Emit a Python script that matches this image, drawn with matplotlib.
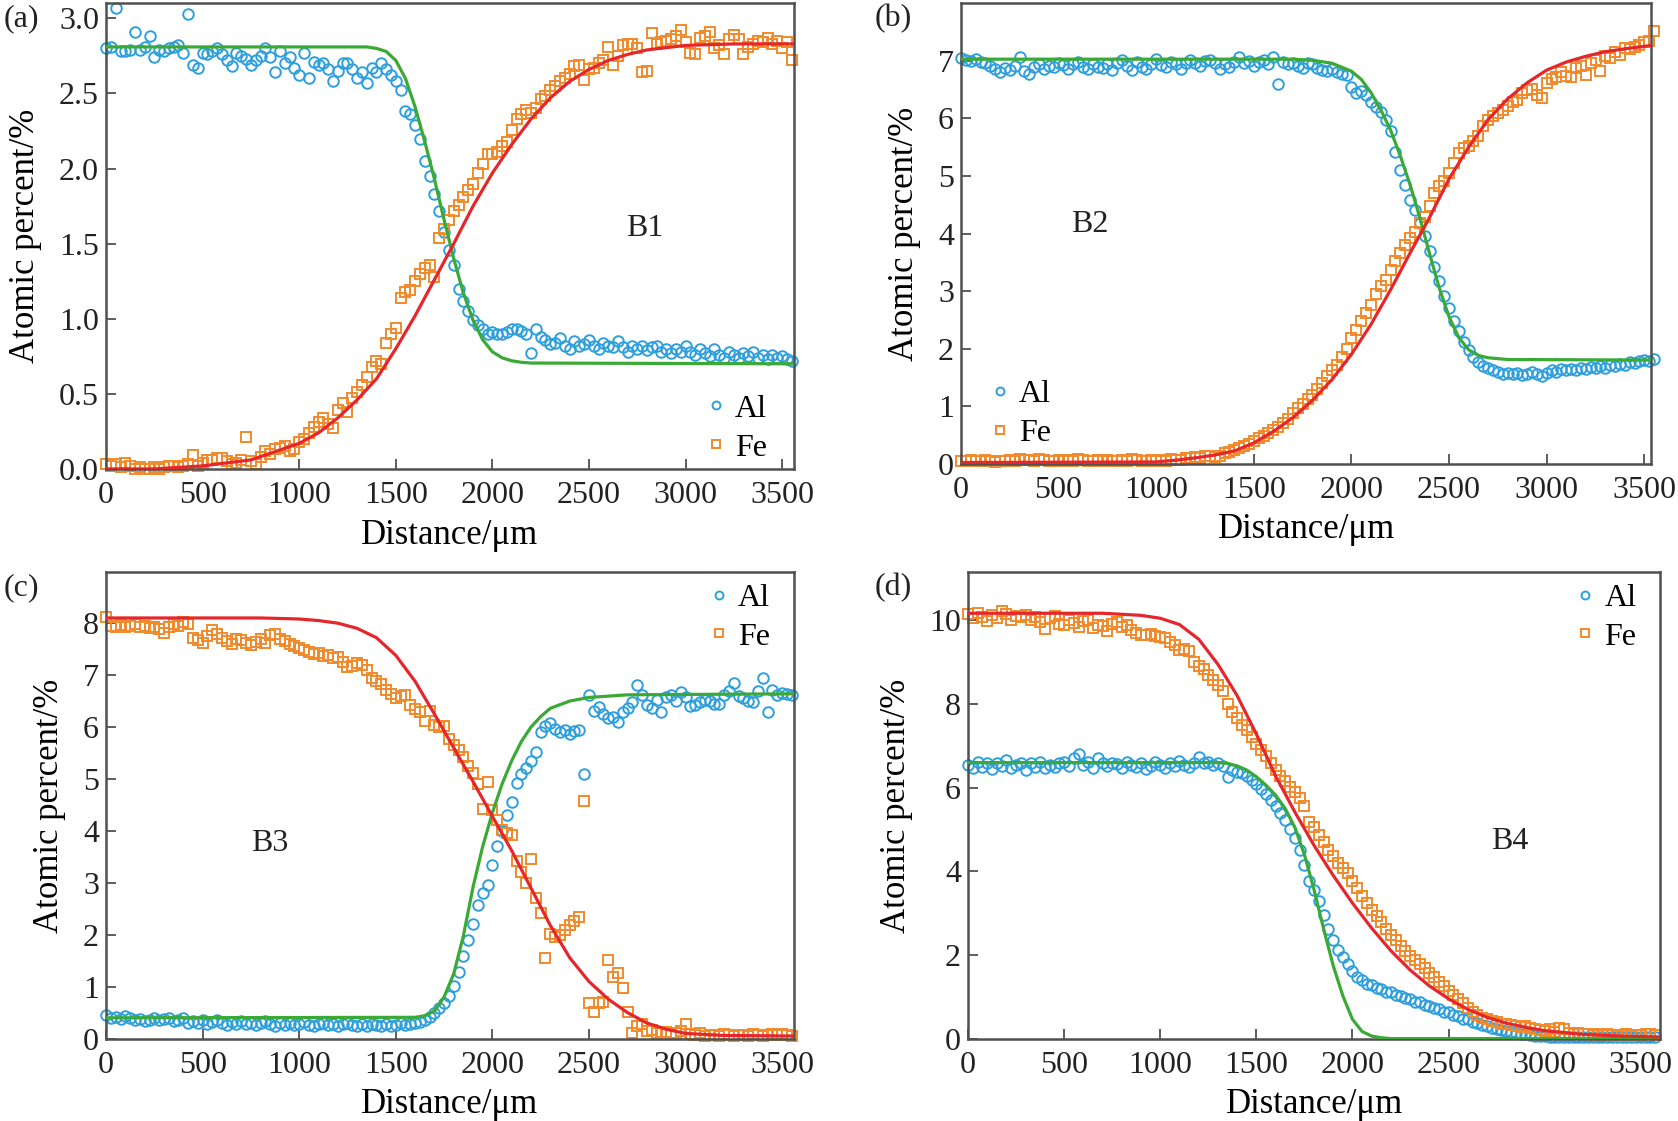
import numpy as np
import matplotlib
matplotlib.use("Agg")
import matplotlib.pyplot as plt
from matplotlib.ticker import FormatStrFormatter

plt.rcParams['font.family'] = ['Liberation Serif', 'DejaVu Serif']

STEP = 25  # spacing of the line-scan points, um

# ---- B1 ----
al_b1 = [2.80, 2.81, 3.07, 2.78, 2.78, 2.79, 2.91, 2.79, 2.81, 2.88,
         2.74, 2.79, 2.78, 2.80, 2.81, 2.82, 2.77, 3.03, 2.69, 2.67,
         2.77, 2.76, 2.78, 2.80, 2.76, 2.72, 2.68, 2.77, 2.75, 2.73,
         2.69, 2.72, 2.75, 2.80, 2.74, 2.64, 2.78, 2.70, 2.74, 2.67,
         2.62, 2.77, 2.60, 2.71, 2.69, 2.70, 2.66, 2.58, 2.65, 2.70,
         2.70, 2.66, 2.60, 2.64, 2.57, 2.67, 2.64, 2.70, 2.66, 2.62,
         2.58, 2.52, 2.38, 2.36, 2.29, 2.20, 2.05, 1.95, 1.83, 1.72,
         1.58, 1.46, 1.36, 1.20, 1.12, 1.05, 0.99, 0.96, 0.93, 0.90,
         0.91, 0.90, 0.90, 0.91, 0.93, 0.93, 0.92, 0.90, 0.77, 0.93,
         0.88, 0.86, 0.83, 0.84, 0.87, 0.82, 0.80, 0.85, 0.82, 0.83,
         0.86, 0.82, 0.80, 0.84, 0.82, 0.81, 0.85, 0.81, 0.78, 0.82,
         0.80, 0.82, 0.79, 0.81, 0.82, 0.78, 0.80, 0.77, 0.80, 0.78,
         0.82, 0.78, 0.76, 0.80, 0.77, 0.75, 0.80, 0.76, 0.74, 0.78,
         0.76, 0.74, 0.77, 0.75, 0.78, 0.74, 0.76, 0.73, 0.76, 0.74,
         0.75, 0.73, 0.72]
fe_b1 = [0.03, 0.02, 0.03, 0.01, 0.04, 0.02, 0.00, 0.01, 0.00, 0.00,
         0.01, 0.00, 0.01, 0.02, 0.02, 0.01, 0.02, 0.03, 0.09, 0.02,
         0.04, 0.06, 0.06, 0.07, 0.07, 0.05, 0.03, 0.04, 0.06, 0.21,
         0.05, 0.03, 0.08, 0.12, 0.10, 0.13, 0.14, 0.15, 0.12, 0.13,
         0.18, 0.20, 0.24, 0.28, 0.31, 0.34, 0.30, 0.27, 0.39, 0.44,
         0.38, 0.47, 0.51, 0.56, 0.61, 0.68, 0.72, 0.70, 0.84, 0.90,
         0.94, 1.14, 1.18, 1.19, 1.25, 1.30, 1.34, 1.36, 1.28, 1.54,
         1.60, 1.66, 1.72, 1.76, 1.81, 1.86, 1.90, 1.97, 2.03, 2.10,
         2.10, 2.11, 2.15, 2.18, 2.26, 2.33, 2.36, 2.39, 2.37, 2.40,
         2.46, 2.48, 2.52, 2.55, 2.58, 2.60, 2.63, 2.68, 2.69, 2.59,
         2.66, 2.67, 2.70, 2.72, 2.81, 2.69, 2.75, 2.82, 2.83, 2.83,
         2.80, 2.64, 2.65, 2.90, 2.83, 2.84, 2.85, 2.86, 2.88, 2.92,
         2.84, 2.77, 2.76, 2.87, 2.88, 2.91, 2.80, 2.82, 2.76, 2.86,
         2.89, 2.86, 2.76, 2.81, 2.83, 2.85, 2.84, 2.87, 2.83, 2.85,
         2.80, 2.84, 2.72]
al_fit_b1_x = [0, 1350, 1400, 1450, 1500, 1550, 1600, 1650, 1700, 1750, 1800,
               1850, 1900, 1950, 2000, 2050, 2100, 2150, 2200, 3560]
al_fit_b1_y = [2.81, 2.81, 2.80, 2.78, 2.72, 2.60, 2.41, 2.18, 1.93, 1.66, 1.40,
               1.17, 0.99, 0.86, 0.78, 0.74, 0.72, 0.71, 0.705, 0.70]
fe_fit_b1_x = [0, 250, 500, 750, 1000, 1100, 1200, 1300, 1400, 1500, 1600, 1700,
               1800, 1900, 2000, 2100, 2200, 2300, 2400, 2500, 2600, 2700, 2800,
               3000, 3250, 3560]
fe_fit_b1_y = [0.00, 0.00, 0.02, 0.06, 0.17, 0.24, 0.34, 0.46, 0.60, 0.80, 1.02, 1.26,
               1.50, 1.75, 1.97, 2.16, 2.33, 2.47, 2.58, 2.66, 2.72, 2.76, 2.79,
               2.82, 2.83, 2.83]

# ---- B2 ----
al_b2 = [7.05, 7.02, 7.00, 7.03, 6.98, 6.96, 6.92, 6.86, 6.80, 6.88,
         6.84, 6.92, 7.06, 6.82, 6.78, 6.90, 6.95, 6.86, 6.92, 6.90,
         6.97, 6.93, 6.86, 6.95, 6.98, 6.90, 6.86, 6.94, 6.90, 6.88,
         6.95, 6.84, 6.97, 7.02, 6.92, 6.85, 6.98, 6.90, 6.86, 6.95,
         7.04, 6.93, 6.90, 6.98, 6.94, 6.86, 6.96, 7.02, 6.97, 6.92,
         6.99, 7.02, 6.96, 6.86, 6.94, 6.90, 6.98, 7.06, 6.96, 7.00,
         6.92, 6.98, 7.02, 6.95, 7.06, 6.60, 6.98, 6.94, 6.97, 6.92,
         6.88, 6.96, 6.94, 6.88, 6.85, 6.82, 6.86, 6.80, 6.78, 6.75,
         6.55, 6.45, 6.48, 6.40, 6.28, 6.20, 6.12, 5.98, 5.78, 5.42,
         5.10, 4.85, 4.58, 4.40, 4.18, 3.95, 3.70, 3.42, 3.18, 2.92,
         2.70, 2.48, 2.30, 2.12, 1.98, 1.86, 1.76, 1.70, 1.66, 1.62,
         1.60, 1.56, 1.58, 1.55, 1.58, 1.54, 1.56, 1.60, 1.55, 1.52,
         1.58, 1.62, 1.60, 1.64, 1.62, 1.65, 1.63, 1.66, 1.64, 1.68,
         1.66, 1.70, 1.67, 1.72, 1.70, 1.74, 1.72, 1.76, 1.75, 1.78,
         1.80, 1.79, 1.82]
fe_b2 = [0.05, 0.04, 0.06, 0.05, 0.04, 0.06, 0.05, 0.03, 0.04, 0.05,
         0.06, 0.04, 0.08, 0.07, 0.06, 0.05, 0.08, 0.06, 0.05, 0.04,
         0.06, 0.05, 0.07, 0.05, 0.08, 0.06, 0.05, 0.04, 0.06, 0.05,
         0.07, 0.04, 0.05, 0.06, 0.05, 0.08, 0.06, 0.04, 0.05, 0.07,
         0.04, 0.06, 0.05, 0.08, 0.07, 0.06, 0.09, 0.10, 0.12, 0.10,
         0.13, 0.14, 0.12, 0.14, 0.18, 0.20, 0.23, 0.27, 0.30, 0.34,
         0.40, 0.44, 0.48, 0.54, 0.58, 0.64, 0.70, 0.78, 0.88, 0.96,
         1.04, 1.12, 1.20, 1.30, 1.40, 1.52, 1.62, 1.72, 1.86, 2.00,
         2.18, 2.32, 2.48, 2.62, 2.76, 2.95, 3.08, 3.20, 3.36, 3.52,
         3.66, 3.80, 3.92, 4.02, 4.18, 4.28, 4.48, 4.70, 4.82, 4.92,
         5.06, 5.22, 5.40, 5.48, 5.52, 5.60, 5.70, 5.86, 5.98, 6.05,
         6.10, 6.15, 6.22, 6.28, 6.32, 6.45, 6.50, 6.52, 6.40, 6.36,
         6.62, 6.68, 6.72, 6.80, 6.74, 6.72, 6.88, 6.92, 6.76, 6.96,
         7.02, 6.82, 7.08, 7.05, 7.15, 7.10, 7.22, 7.20, 7.25, 7.28,
         7.32, 7.34, 7.52]
al_fit_b2_x = [0, 1700, 1800, 1900, 2000, 2050, 2100, 2150, 2200, 2250, 2300,
               2350, 2400, 2450, 2500, 2550, 2600, 2650, 2700, 2800, 3540]
al_fit_b2_y = [7.03, 7.03, 7.01, 6.96, 6.82, 6.68, 6.45, 6.15, 5.80, 5.35, 4.85,
               4.28, 3.65, 3.05, 2.55, 2.19, 1.98, 1.88, 1.84, 1.81, 1.80]
fe_fit_b2_x = [0, 1000, 1100, 1200, 1300, 1400, 1500, 1600, 1700, 1800, 1900,
               2000, 2100, 2200, 2300, 2400, 2500, 2600, 2700, 2800, 2900, 3000,
               3100, 3200, 3300, 3400, 3540]
fe_fit_b2_y = [0.02, 0.03, 0.06, 0.10, 0.15, 0.22, 0.36, 0.56, 0.80, 1.10, 1.46,
               1.90, 2.42, 3.02, 3.66, 4.28, 4.95, 5.50, 5.98, 6.34, 6.62, 6.84,
               6.98, 7.08, 7.16, 7.21, 7.27]

# ---- B3 ----
al_b3 = [0.45, 0.40, 0.42, 0.38, 0.44, 0.40, 0.36, 0.38, 0.33, 0.36,
         0.40, 0.35, 0.38, 0.40, 0.33, 0.36, 0.39, 0.30, 0.34, 0.31,
         0.35, 0.28, 0.32, 0.36, 0.30, 0.27, 0.32, 0.29, 0.33, 0.28,
         0.31, 0.26, 0.30, 0.33, 0.28, 0.25, 0.30, 0.27, 0.31, 0.26,
         0.29, 0.32, 0.27, 0.24, 0.28, 0.31, 0.26, 0.29, 0.25, 0.28,
         0.30, 0.26, 0.24, 0.28, 0.25, 0.29, 0.26, 0.24, 0.28, 0.25,
         0.27, 0.30, 0.26, 0.28, 0.30, 0.32, 0.36, 0.42, 0.50, 0.58,
         0.68, 0.82, 1.02, 1.28, 1.60, 1.90, 2.20, 2.58, 2.80, 2.95,
         3.35, 3.70, 4.00, 4.30, 4.55, 4.92, 5.10, 5.22, 5.35, 5.52,
         5.90, 6.02, 6.08, 5.96, 5.90, 5.95, 5.86, 5.92, 5.94, 5.10,
         6.62, 6.30, 6.38, 6.25, 6.18, 6.20, 6.10, 6.28, 6.36, 6.48,
         6.80, 6.62, 6.42, 6.36, 6.52, 6.28, 6.58, 6.62, 6.50, 6.68,
         6.58, 6.40, 6.42, 6.48, 6.52, 6.50, 6.45, 6.44, 6.62, 6.70,
         6.84, 6.60, 6.56, 6.50, 6.48, 6.70, 6.95, 6.28, 6.72, 6.62,
         6.66, 6.64, 6.61]
fe_b3 = [8.12, 7.95, 7.92, 7.96, 7.92, 7.95, 7.98, 7.92, 7.95, 7.90,
         7.93, 7.88, 7.82, 7.92, 7.98, 7.95, 8.02, 7.98, 7.72, 7.68,
         7.62, 7.76, 7.86, 7.80, 7.72, 7.65, 7.60, 7.70, 7.68, 7.62,
         7.58, 7.64, 7.70, 7.62, 7.78, 7.80, 7.70, 7.66, 7.60, 7.56,
         7.52, 7.48, 7.44, 7.40, 7.42, 7.36, 7.38, 7.32, 7.34, 7.26,
         7.16, 7.18, 7.24, 7.20, 7.10, 6.95, 6.88, 6.82, 6.72, 6.64,
         6.56, 6.60, 6.62, 6.42, 6.35, 6.28, 6.12, 6.30, 6.04, 6.00,
         6.02, 5.76, 5.66, 5.55, 5.42, 5.25, 5.12, 4.90, 4.42, 4.95,
         4.40, 4.20, 4.02, 3.95, 3.92, 3.42, 3.20, 3.00, 3.46, 2.70,
         2.42, 1.55, 2.02, 1.96, 2.00, 2.10, 2.18, 2.26, 2.34, 4.58,
         0.68, 0.52, 0.68, 0.70, 1.52, 1.18, 1.26, 0.98, 0.52, 0.10,
         0.25, 0.28, 0.14, 0.16, 0.10, 0.12, 0.12, 0.08, 0.10, 0.15,
         0.28, 0.08, 0.06, 0.10, 0.05, 0.07, 0.06, 0.05, 0.08, 0.06,
         0.05, 0.07, 0.06, 0.05, 0.08, 0.06, 0.05, 0.07, 0.08, 0.06,
         0.09, 0.07, 0.05]
al_fit_b3_x = [0, 1600, 1650, 1700, 1750, 1800, 1850, 1900, 1950, 2000, 2050,
               2100, 2150, 2200, 2250, 2300, 2400, 2500, 2700, 3560]
al_fit_b3_y = [0.40, 0.41, 0.44, 0.53, 0.80, 1.25, 1.98, 2.92, 3.70, 4.35, 4.90,
               5.35, 5.72, 6.00, 6.20, 6.36, 6.50, 6.57, 6.62, 6.64]
fe_fit_b3_x = [0, 800, 1000, 1100, 1200, 1300, 1400, 1500, 1600, 1700, 1800,
               1900, 2000, 2100, 2200, 2300, 2400, 2500, 2600, 2700, 2800, 2900,
               3000, 3200, 3560]
fe_fit_b3_y = [8.10, 8.10, 8.08, 8.05, 8.00, 7.90, 7.72, 7.38, 6.88, 6.25, 5.60,
               4.95, 4.28, 3.62, 2.90, 2.18, 1.56, 1.10, 0.76, 0.50, 0.30, 0.18,
               0.10, 0.06, 0.05]

# ---- B4 ----
al_b4 = [6.55, 6.48, 6.62, 6.50, 6.58, 6.45, 6.60, 6.52, 6.66, 6.48,
         6.55, 6.60, 6.42, 6.58, 6.50, 6.62, 6.46, 6.55, 6.50, 6.58,
         6.62, 6.52, 6.70, 6.80, 6.55, 6.62, 6.48, 6.72, 6.58, 6.52,
         6.60, 6.56, 6.48, 6.62, 6.55, 6.50, 6.58, 6.44, 6.52, 6.62,
         6.55, 6.48, 6.58, 6.52, 6.64, 6.55, 6.50, 6.60, 6.74, 6.58,
         6.62, 6.55, 6.60, 6.52, 6.25, 6.42, 6.38, 6.34, 6.28, 6.18,
         6.08, 5.96, 5.84, 5.70, 5.55, 5.40, 5.22, 5.02, 4.80, 4.52,
         4.15, 3.78, 3.55, 3.30, 2.95, 2.62, 2.36, 2.12, 1.95, 1.78,
         1.62, 1.48, 1.40, 1.30, 1.27, 1.20, 1.19, 1.12, 1.11, 1.04,
         1.03, 0.96, 0.95, 0.88, 0.87, 0.80, 0.79, 0.72, 0.71, 0.64,
         0.63, 0.56, 0.55, 0.48, 0.46, 0.40, 0.38, 0.32, 0.31, 0.25,
         0.23, 0.20, 0.18, 0.15, 0.13, 0.11, 0.10, 0.08, 0.07, 0.06,
         0.06, 0.05, 0.05, 0.04, 0.05, 0.04, 0.04, 0.05, 0.04, 0.04,
         0.03, 0.04, 0.04, 0.03, 0.04, 0.03, 0.03, 0.04, 0.03, 0.03,
         0.03, 0.04, 0.03, 0.03]
fe_b4 = [10.15, 10.05, 10.18, 10.08, 9.98, 10.12, 10.05, 10.22, 10.15, 10.02,
         10.10, 10.08, 10.12, 10.00, 10.08, 9.95, 9.80, 10.05, 10.10, 9.92,
         9.88, 10.02, 9.94, 9.85, 9.98, 10.00, 9.82, 9.90, 9.86, 9.74,
         9.92, 9.96, 9.84, 9.88, 9.78, 9.70, 9.66, 9.64, 9.68, 9.62,
         9.60, 9.58, 9.48, 9.40, 9.30, 9.32, 9.26, 9.00, 8.92, 8.84,
         8.70, 8.58, 8.45, 8.30, 8.00, 7.82, 7.66, 7.50, 7.38, 7.22,
         7.05, 6.90, 6.75, 6.58, 6.42, 6.28, 6.15, 6.02, 5.90, 5.76,
         5.55, 5.18, 5.05, 4.88, 4.70, 4.52, 4.36, 4.20, 4.08, 3.95,
         3.78, 3.60, 3.40, 3.24, 3.08, 2.92, 2.78, 2.62, 2.48, 2.35,
         2.22, 2.10, 1.98, 1.88, 1.78, 1.68, 1.58, 1.48, 1.36, 1.26,
         1.14, 1.04, 0.94, 0.86, 0.74, 0.64, 0.56, 0.50, 0.46, 0.42,
         0.40, 0.36, 0.34, 0.32, 0.30, 0.28, 0.30, 0.26, 0.22, 0.20,
         0.18, 0.22, 0.16, 0.25, 0.24, 0.14, 0.12, 0.14, 0.10, 0.12,
         0.09, 0.10, 0.08, 0.10, 0.09, 0.07, 0.08, 0.10, 0.07, 0.09,
         0.08, 0.10, 0.12, 0.09]
al_fit_b4_x = [0, 1300, 1350, 1400, 1450, 1500, 1550, 1600, 1650, 1700, 1750,
               1800, 1850, 1900, 1950, 2000, 2050, 2100, 2150, 2200, 3600]
al_fit_b4_y = [6.60, 6.60, 6.58, 6.52, 6.42, 6.26, 6.06, 5.82, 5.50, 5.05, 4.40,
               3.56, 2.62, 1.74, 1.02, 0.46, 0.17, 0.06, 0.02, 0.00, 0.00]
fe_fit_b4_x = [0, 700, 900, 1000, 1100, 1200, 1300, 1400, 1500, 1600, 1700,
               1800, 1900, 2000, 2100, 2200, 2300, 2400, 2500, 2600, 2700, 2800,
               2900, 3000, 3200, 3400, 3600]
fe_fit_b4_y = [10.17, 10.17, 10.12, 10.05, 9.90, 9.55, 8.95, 8.20, 7.28, 6.28, 5.42,
               4.62, 3.90, 3.24, 2.64, 2.10, 1.64, 1.26, 0.95, 0.70, 0.51, 0.37,
               0.27, 0.19, 0.10, 0.06, 0.04]

x_ticks = [0, 500, 1000, 1500, 2000, 2500, 3000, 3500]

AL_C = '#2f9fdb'
FE_C = '#f08a2c'
GREEN = '#3aa935'
RED = '#e5262b'
SPINE = '#505050'
FS = 23

fig = plt.figure(figsize=(16.78, 11.21), dpi=100)

panels = [
    dict(rect=[0.0632, 0.5817, 0.4098, 0.4153], al=al_b1, fe=fe_b1,
         afx=al_fit_b1_x, afy=al_fit_b1_y, ffx=fe_fit_b1_x, ffy=fe_fit_b1_y,
         xmax=3560, ylim=(0, 3.1), yticks=[0, 0.5, 1.0, 1.5, 2.0, 2.5, 3.0],
         fmt='%.1f', name='B1', npos=(2790, 1.6), letter='(a)',
         leg=dict(loc='lower right', bbox_to_anchor=(0.97, 0.0))),
    dict(rect=[0.5727, 0.5864, 0.4113, 0.4106], al=al_b2, fe=fe_b2,
         afx=al_fit_b2_x, afy=al_fit_b2_y, ffx=fe_fit_b2_x, ffy=fe_fit_b2_y,
         xmax=3535, ylim=(0, 8.0), yticks=[0, 1, 2, 3, 4, 5, 6, 7],
         fmt='%d', name='B2', npos=(660, 4.15), letter='(b)',
         leg=dict(loc='lower left', bbox_to_anchor=(0.035, 0.02))),
    dict(rect=[0.0632, 0.0735, 0.4098, 0.4160], al=al_b3, fe=fe_b3,
         afx=al_fit_b3_x, afy=al_fit_b3_y, ffx=fe_fit_b3_x, ffy=fe_fit_b3_y,
         xmax=3560, ylim=(0, 8.98), yticks=[0, 1, 2, 3, 4, 5, 6, 7, 8],
         fmt='%d', name='B3', npos=(850, 3.75), letter='(c)',
         leg=dict(loc='upper right', bbox_to_anchor=(0.975, 0.99))),
    dict(rect=[0.5769, 0.0735, 0.4124, 0.4160], al=al_b4, fe=fe_b4,
         afx=al_fit_b4_x, afy=al_fit_b4_y, ffx=fe_fit_b4_x, ffy=fe_fit_b4_y,
         xmax=3600, ylim=(0, 11.15), yticks=[0, 2, 4, 6, 8, 10],
         fmt='%d', name='B4', npos=(2820, 4.72), letter='(d)',
         leg=dict(loc='upper right', bbox_to_anchor=(0.975, 0.99))),
]

for p in panels:
    ax = fig.add_axes(p['rect'])
    d_al = np.arange(len(p['al'])) * STEP
    d_fe = np.arange(len(p['fe'])) * STEP
    ax.plot(d_al, p['al'], 'o', ms=7.6, mfc='none', mec=AL_C, mew=1.4,
            label='Al', zorder=2, clip_on=False)
    ax.plot(d_fe, p['fe'], 's', ms=7.4, mfc='none', mec=FE_C, mew=1.4,
            label='Fe', zorder=2, clip_on=False)
    ax.plot(p['afx'], p['afy'], color=GREEN, lw=2.3, zorder=3)
    ax.plot(p['ffx'], p['ffy'], color=RED, lw=2.3, zorder=3)

    ax.set_xlim(0, p['xmax'])
    ax.set_ylim(*p['ylim'])
    ax.set_xticks(x_ticks)
    ax.set_yticks(p['yticks'])
    ax.yaxis.set_major_formatter(FormatStrFormatter(p['fmt']))
    ax.tick_params(direction='in', length=7, width=1.3, labelsize=FS,
                   color=SPINE, labelcolor='#222222')
    ax.tick_params(axis='x', pad=9)
    ax.tick_params(axis='y', pad=5)
    for s in ax.spines.values():
        s.set_color(SPINE)
        s.set_linewidth(1.8)

    ax.set_xlabel('Distance/\u03bcm', fontsize=FS + 2, labelpad=6)
    ax.set_ylabel('Atomic percent/%', fontsize=FS + 2, labelpad=12)
    ax.text(p['npos'][0], p['npos'][1], p['name'], fontsize=FS,
            ha='center', va='center', color='#222222')

    ax.legend(frameon=False, fontsize=FS, handlelength=0.5, handletextpad=0.35,
              labelspacing=0.3, borderaxespad=0, borderpad=0.2,
              markerscale=0.75, **p['leg'])

    x0, y0, w, h = p['rect']
    fig.text(0.0125 if x0 < 0.5 else 0.5325, y0 + h - 0.014, p['letter'],
             fontsize=FS, ha='center', va='center', color='#222222')

fig.savefig('out.png', dpi=100)
